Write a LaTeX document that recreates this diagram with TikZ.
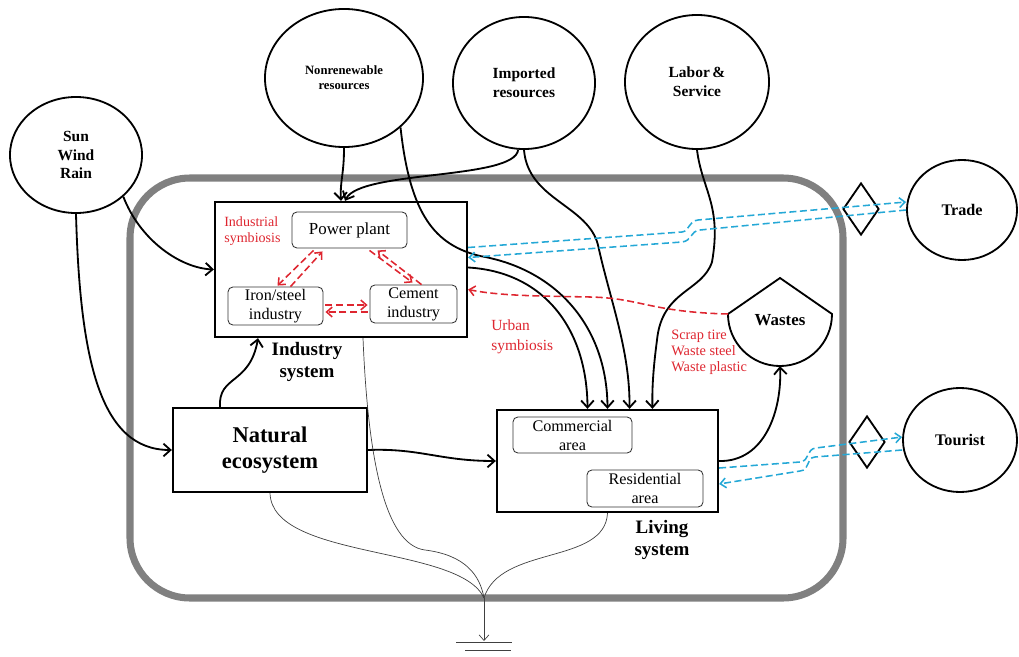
\documentclass[tikz,border=0pt]{standalone}
\usepackage{fontspec}
\setmainfont{Liberation Serif}
\usetikzlibrary{shapes.geometric,arrows.meta,calc}

\definecolor{framegray}{RGB}{128,128,128}
\definecolor{symred}{RGB}{222,38,48}
\definecolor{flowblue}{RGB}{36,168,214}

\begin{document}
\begin{tikzpicture}[x=0.025cm,y=-0.025cm,
        source/.style={ellipse,draw,line width=1.3pt,inner sep=0pt,align=center},
        sysbox/.style={draw,line width=1.6pt,inner sep=0pt},
        unit/.style={draw=black!80,rounded corners=3.5pt,line width=0.6pt,inner sep=0pt,align=center,font=\fontsize{11.5}{13.5}\selectfont},
        gate/.style={diamond,draw,line width=1.3pt,inner sep=0pt,minimum width=0.9cm,minimum height=1.3cm},
        flow/.style={line width=1.3pt,-{Straight Barb[length=5pt,width=9pt]}},
        sink/.style={line width=0.5pt,draw=black!75},
        redflow/.style={symred,line width=1.1pt,dash pattern=on 5pt off 2.5pt,-{Straight Barb[length=4pt,width=7pt]}},
        blueflow/.style={flowblue,line width=1.1pt,dash pattern=on 5pt off 2.5pt,-{Straight Barb[length=4pt,width=7pt]}},
        note/.style={text=symred,align=left,anchor=west,inner sep=0pt}]
        \useasboundingbox (0,0) rectangle (1019,657);
        % system boundary
        \draw [framegray,line width=5pt,rounded corners=1.5cm] (130,178) rectangle (843,598);

        % sources
        \node [source,minimum width=3.3cm,minimum height=2.9cm,font=\bfseries\fontsize{11}{13}\selectfont] (sun) at (76,155) {Sun\\Wind\\Rain};
        \node [source,minimum width=3.95cm,minimum height=3.45cm,font=\bfseries\fontsize{9}{10.5}\selectfont] (nonren) at (344,78) {Nonrenewable\\resources};
        \node [source,minimum width=3.55cm,minimum height=3.3cm,font=\bfseries\fontsize{11}{13.5}\selectfont] (imported) at (524,83) {Imported\\resources};
        \node [source,minimum width=3.6cm,minimum height=3.35cm,font=\bfseries\fontsize{11}{13.5}\selectfont] (labor) at (697,82) {Labor\,\&\\Service};
        \node [source,minimum width=2.75cm,minimum height=2.5cm,font=\bfseries\fontsize{11.5}{13}\selectfont] (trade) at (962,210) {Trade};
        \node [source,minimum width=2.85cm,minimum height=2.6cm,font=\bfseries\fontsize{11.5}{13}\selectfont] (tourist) at (960,440) {Tourist};
        \node [gate] (tradegate) at (861,209) {};
        \node [gate] (tourgate) at (867,442) {};

        % systems
        \node [sysbox,minimum width=6.3cm,minimum height=3.375cm] (industry) at (341,269.5) {};
        \node [sysbox,minimum width=4.85cm,minimum height=2.1cm,align=center,font=\bfseries\fontsize{16}{18}\selectfont] (natural) at (270,450) {Natural\\ecosystem};
        \node [sysbox,minimum width=5.525cm,minimum height=2.55cm] (living) at (607.5,461) {};
        \node [unit,minimum width=2.875cm,minimum height=0.9cm,font=\fontsize{12}{13}\selectfont] (power) at (349.5,230) {Power plant};
        \node [unit,minimum width=2.375cm,minimum height=0.95cm] (iron) at (275.5,306) {Iron/steel\\industry};
        \node [unit,minimum width=2.175cm,minimum height=0.95cm] (cement) at (413.5,304) {Cement\\industry};
        \node [unit,minimum width=2.975cm,minimum height=0.9cm] (commercial) at (572.5,435) {Commercial\\area};
        \node [unit,minimum width=2.9cm,minimum height=0.925cm] (residential) at (645,488.5) {Residential\\area};
        \node [align=center,font=\bfseries\fontsize{13.5}{15}\selectfont] (indlabel) at (307,362) {Industry\\system};
        \node [align=center,font=\bfseries\fontsize{13.5}{15}\selectfont] (livlabel) at (662,540) {Living\\system};
        \node [note,font=\fontsize{10}{11}\selectfont] (indsym) at (224,231) {Industrial\\symbiosis};
        \node [note,font=\fontsize{11}{14}\selectfont] (urbsym) at (491,337) {Urban\\symbiosis};
        \node [note,font=\fontsize{10.2}{11.3}\selectfont] (scrap) at (671,352) {Scrap tire\\Waste steel\\Waste plastic};

        % wastes
        \coordinate (wtop) at (780,278);
        \coordinate (wleft) at (728,314);
        \coordinate (wright) at (832,314);
        \coordinate (wbot) at (780,366);
        \draw [line width=1.3pt] (wleft) -- (wtop) -- (wright) arc [start angle=0,end angle=-180,radius=1.3cm] -- cycle;
        \node [font=\bfseries\fontsize{12}{14}\selectfont] (wastes) at (780,320) {Wastes};

        % ground
        \coordinate (gnd) at (484,598);
        \coordinate (earth) at (484,641);
        \draw [sink,-{Straight Barb[length=4pt,width=7pt]}] (gnd) -- (earth);
        \draw [sink] ($(earth)+(-28,1)$) -- ($(earth)+(28,1)$) ($(earth)+(-19,9)$) -- ($(earth)+(27,9)$);

        % energy and material flows
        \draw [flow] (sun.south east) .. controls (140,240) and (180,268) .. (industry.west);
        \draw [flow] (sun.south) .. controls (80,360) and (100,450) .. (natural.west);
        \draw [flow] ($(natural.north)+(-50,0)$) .. controls (218,375) and (250,385) .. ($(industry.south)+(-83,0)$);
        \draw [flow] (natural.east) .. controls (420,448) and (440,461) .. (living.west);
        \draw [flow] (nonren.south) .. controls (344,175) and (340,180) .. (industry.north);
        \draw [flow] (imported.265) .. controls (515,180) and (360,170) .. ($(industry.north)+(4,0)$);
        \draw [flow] (imported.south) .. controls (528,200) and (588,205) .. (598,245) .. controls (610,300) and (630,350) .. ($(living.north)+(22,0)$);
        \draw [flow] (nonren.south east) .. controls (410,215) and (435,245) .. (480,256) .. controls (560,270) and (607,330) .. (living.north);
        \draw [flow] ($(industry.east)+(0,-2)$) .. controls (545,272) and (587,330) .. ($(living.north)+(-20,0)$);
        \draw [flow] (labor.south) .. controls (702,190) and (722,205) .. (712,262) .. controls (702,292) and (662,290) .. (657,340) .. controls (653,370) and (652,390) .. ($(living.north)+(45,0)$);
        \draw [flow] (living.east) .. controls (765,462) and (782,410) .. (wbot);

        % symbiosis
        \draw [redflow] (wleft) .. controls (650,312) and (640,298) .. (590,297) .. controls (540,296) and (500,296) .. ($(industry.east)+(0,20)$);
        \draw [redflow] ($(power.south)+(-36,2)$) -- ($(iron.north)+(2,-1)$);
        \draw [redflow] ($(iron.north)+(15,0)$) -- ($(power.south)+(-27,3)$);
        \draw [redflow] ($(power.south)+(20,2)$) -- ($(cement.north)+(-1,-2)$);
        \draw [redflow] ($(cement.north)+(8,0)$) -- ($(power.south)+(28,2)$);
        \draw [redflow] ($(iron.east)+(2,-1)$) -- ($(cement.west)+(-2,1)$);
        \draw [redflow] ($(cement.west)+(-2,8)$) -- ($(iron.east)+(2,6)$);

        % exchange
        \draw [blueflow] ($(industry.east)+(0,-22)$) -- (682,232) .. controls (690,231) and (688,221) .. (698,220) -- ($(trade.west)+(0,-8)$);
        \draw [blueflow] (trade.west) -- (700,230) .. controls (690,231) and (692,241) .. (682,242) -- ($(industry.east)+(0,-12)$);
        \draw [blueflow] ($(living.east)+(0,7)$) -- (800,462) .. controls (810,461) and (806,449) .. (816,448) -- ($(tourist.west)+(0,-3)$);
        \draw [blueflow] ($(tourist.west)+(0,10)$) -- (815,457) .. controls (805,458) and (811,470) .. (800,471) -- ($(living.east)+(0,23)$);

        % dissipation
        \draw [sink] (natural.south) .. controls (272,560) and (460,545) .. (gnd);
        \draw [sink] ($(industry.south)+(22,0)$) .. controls (368,460) and (385,545) .. (425,550) .. controls (465,555) and (480,575) .. (gnd);
        \draw [sink] (living.south) .. controls (605,565) and (500,545) .. (gnd);
\end{tikzpicture}
\end{document}
